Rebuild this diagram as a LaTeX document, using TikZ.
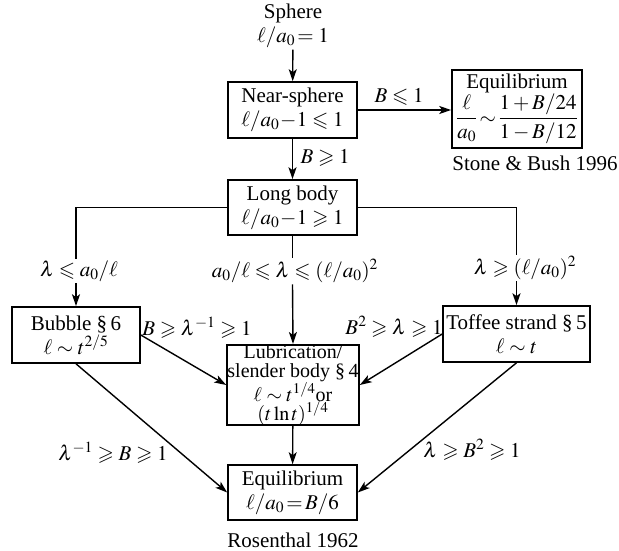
\documentclass[tikz,border=0pt]{standalone}
\usepackage{amsmath}
\usepackage{mathptmx}
\usepackage{amssymb}
\usepackage[no-math]{fontspec}
\setmainfont{Liberation Serif}
\usepackage{tikz}
\usetikzlibrary{shapes, arrows.meta, positioning}

\begin{document}
\begin{tikzpicture}[x=1pt, y=-1pt,
    box/.style={rectangle, draw, line width=1.6pt, inner sep=0pt, align=center},
    lbl/.style={inner sep=1pt, align=center},
    every node/.style={font=\fontsize{21}{24}\selectfont},
    >={Stealth[length=12pt, width=8pt, inset=3pt]},
    line width=1.4pt]
  \useasboundingbox (0,0) rectangle (619,551);

  % Nodes
  \node [lbl] (sphere) at (293,26) {Sphere\\$\ell/a_0\!=1$};
  \node [box, minimum width=129pt, minimum height=56pt] (near) at (292.5,110) {Near-sphere\\$\ell/a_0\!-\!1\leqslant 1$};
  \node [box, minimum width=130pt, minimum height=78pt, font=\fontsize{21}{18}\selectfont] (eqtop) at (517,109) {Equilibrium\\$\dfrac{\ell}{a_0}\!\sim\!\dfrac{1+B/24}{1-B/12}$};
  \node [box, minimum width=129pt, minimum height=55pt] (long) at (292.5,207.5) {Long body\\$\ell/a_0\!-\!1\geqslant 1$};
  \node [box, minimum width=128pt, minimum height=56pt] (bubble) at (76,335) {Bubble \S\,6\\$\ell\sim t^{2/5}$};
  \node [box, minimum width=147pt, minimum height=56pt] (toffee) at (516.5,334) {Toffee strand \S\,5\\$\ell\sim t$};
  \node [box, minimum width=132pt, minimum height=80pt, font=\fontsize{20}{19}\selectfont] (lub) at (293,385) {Lubrication/\\slender body \S\,4\\$\ell\sim t^{1/4}$or\\$(t\ln t)^{1/4}$};
  \node [box, minimum width=129pt, minimum height=55pt] (eqbot) at (292.5,492.5) {Equilibrium\\$\ell/a_0\!=\!B/6$};

  % Labels
  \node [lbl] (small) at (399,97) {$B\leqslant 1$};
  \node [lbl] (large) at (325,158) {$B\geqslant 1$};
  \node [lbl] (stone) at (535,163) {Stone \& Bush 1996};
  \node [lbl] (lamleft) at (79,271) {$\lambda\leqslant a_0/\ell$};
  \node [lbl] (lammid) at (295,271) {$a_0/\ell\leqslant\lambda\leqslant(\ell/a_0)^2$};
  \node [lbl] (lamright) at (525,268) {$\lambda\geqslant(\ell/a_0)^2$};
  \node [lbl] (bublub) at (197,328) {$B\geqslant\lambda^{-1}\geqslant 1$};
  \node [lbl] (toflub) at (394,327) {$B^2\geqslant\lambda\geqslant 1$};
  \node [lbl] (bubeq) at (113,453) {$\lambda^{-1}\geqslant B\geqslant 1$};
  \node [lbl] (tofeq) at (472,450) {$\lambda\geqslant B^2\geqslant 1$};
  \node [lbl] (rosen) at (293,540) {Rosenthal 1962};

  % Edges
  \draw [->] (sphere) -- (near);
  \draw [->] (near.east) -- (near.east -| eqtop.west);
  \draw [->] (near) -- (long);
  \draw (long.west) -| (lamleft.north -| bubble.north);
  \draw [->] (lamleft.south -| bubble.north) -- (bubble.north);
  \draw (long.south) -- (long.south |- lammid.north);
  \draw [->] (long.south |- lammid.south) -- (lub.north);
  \draw (long.east) -| (lamright.north -| toffee.north);
  \draw [->] (lamright.south -| toffee.north) -- (toffee.north);
  \draw [->] (bubble.east) -- (lub.west);
  \draw [->] (toffee.west) -- (lub.east);
  \draw [->] (bubble.south) -- (eqbot.west);
  \draw [->] (toffee.south) -- (eqbot.east);
  \draw [->] (lub) -- (eqbot);
\end{tikzpicture}
\end{document}
